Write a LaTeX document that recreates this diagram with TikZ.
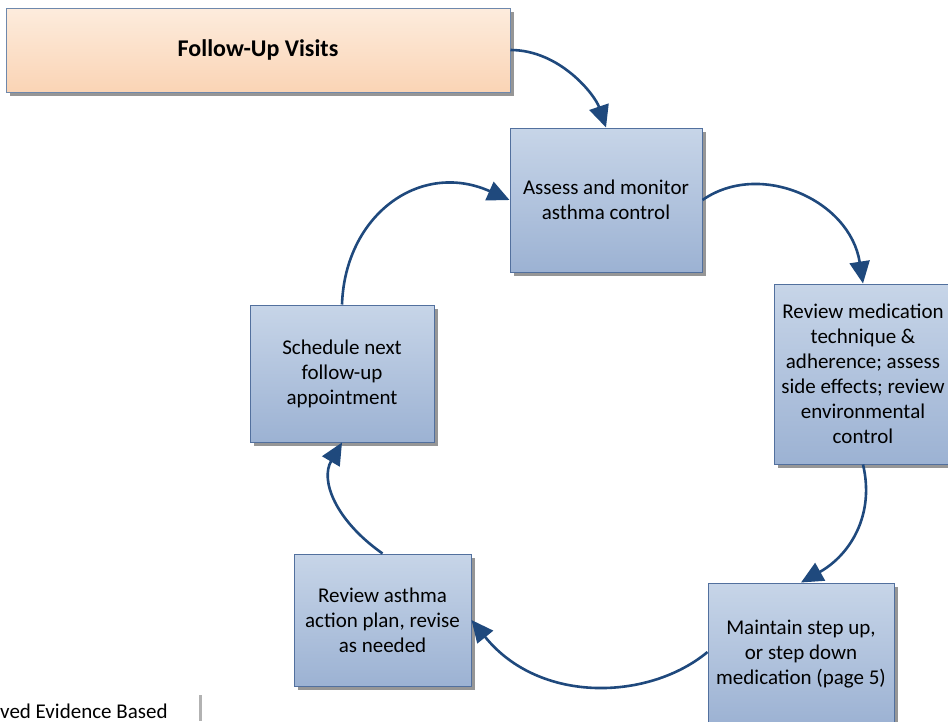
\documentclass[tikz,border=0pt]{standalone}
\usepackage{fontspec}
\setmainfont{Carlito}
\usetikzlibrary{arrows.meta,shadows}
\definecolor{boxtop}{RGB}{199,213,232}
\definecolor{boxbot}{RGB}{156,178,211}
\definecolor{boxline}{RGB}{82,112,158}
\definecolor{peachtop}{RGB}{253,236,221}
\definecolor{peachbot}{RGB}{250,212,181}
\definecolor{peachline}{RGB}{110,136,172}
\definecolor{arrowblue}{RGB}{31,73,125}
\definecolor{shadowgray}{RGB}{150,150,150}
\begin{document}
\begin{tikzpicture}[x=1pt,y=-1pt,
  boxbase/.style={rectangle, inner sep=0pt, align=center, line width=1pt,
    font=\fontsize{21}{25}\selectfont,
    drop shadow={shadow xshift=4pt, shadow yshift=-4pt, fill=shadowgray, opacity=1}},
  bluebox/.style={boxbase, draw=boxline, top color=boxtop, bottom color=boxbot},
  peachbox/.style={boxbase, draw=peachline, top color=peachtop, bottom color=peachbot,
    font=\fontsize{24}{28}\selectfont\bfseries},
  flow/.style={draw=arrowblue, line width=2.6pt,
    -{Triangle[length=22pt,width=20pt]}}
]
\useasboundingbox (0,0) rectangle (948,721);
\clip (0,0) rectangle (948,721);
\fill[white] (0,0) rectangle (948,721);

\node[peachbox, minimum width=504pt, minimum height=84pt] (fu) at (258,50) {Follow-Up Visits};
\node[bluebox, minimum width=192pt, minimum height=144pt] (as) at (606,200) {Assess and monitor\\asthma control};
\node[bluebox, minimum width=178pt, minimum height=180pt] (rm) at (863,374) {Review medication\\technique \&\\adherence; assess\\side effects; review\\environmental\\control};
\node[bluebox, minimum width=186pt, minimum height=142pt] (mt) at (801,654) {Maintain step up,\\or step down\\medication (page 5)};
\node[bluebox, minimum width=177pt, minimum height=132pt] (ra) at (382.5,620) {Review asthma\\action plan, revise\\as needed};
\node[bluebox, minimum width=184pt, minimum height=137pt] (sc) at (342,373.5) {Schedule next\\follow-up\\appointment};

\draw[flow] (fu.east) .. controls (560,50) and (595,95) .. (as.north);
\draw[flow] (as.east) .. controls (760,160) and (850,200) .. (rm.north);
\draw[flow] (rm.south) .. controls (875,515) and (850,555) .. (mt.north);
\draw[flow] ([yshift=2pt]mt.west) .. controls (650,700) and (540,705) .. (ra.east);
\draw[flow] (ra.north) .. controls (335,520) and (320,480) .. (sc.south);
\draw[flow] (sc.north) .. controls (345,215) and (420,160) .. (as.west);

\node[anchor=base west, inner sep=0pt, font=\fontsize{21}{25}\selectfont] (foot) at (0,718) {ved Evidence Based};
\fill[gray!60] (199,695) rectangle (202,721);
\end{tikzpicture}
\end{document}
